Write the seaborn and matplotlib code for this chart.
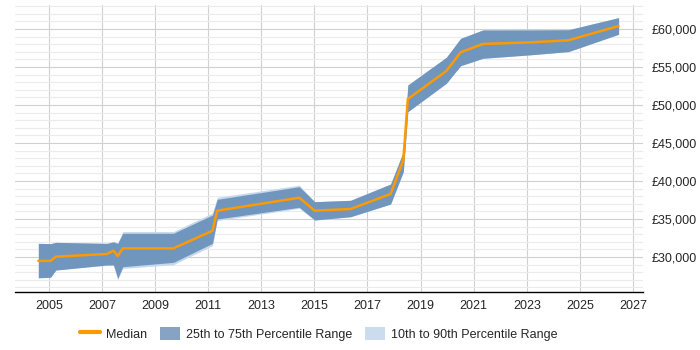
import matplotlib
matplotlib.use("Agg")
import matplotlib.pyplot as plt
import matplotlib.ticker as mticker
from matplotlib.lines import Line2D
from matplotlib.patches import Patch
import seaborn as sns
import pandas as pd

years = [2004.6, 2005.06, 2005.26, 2007.18, 2007.43, 2007.59, 2007.78, 2009.69,
         2011.16, 2011.34, 2014.43, 2015.01, 2016.36, 2017.87, 2018.35, 2018.52,
         2019.97, 2020.51, 2021.35, 2023.15, 2024.57, 2026.46]
median = [29500, 29500, 30050, 30400, 30830, 30130, 31140, 31140,
          33460, 36100, 37800, 36100, 36320, 38290, 42760, 50790,
          54470, 56930, 58030, 58240, 58510, 60390]
p25 = [27270, 27340, 28290, 28950, 28950, 27200, 28730, 29300,
       31800, 35000, 36540, 34870, 35300, 36970, 41230, 49120,
       52850, 55170, 56140, 56600, 57020, 59300]
p75 = [31800, 31760, 31930, 31800, 32000, 31800, 33120, 33120,
       35530, 37590, 39250, 37280, 37460, 39600, 43860, 52630,
       56270, 58770, 59870, 59880, 59900, 61490]
p10 = [27270, 27340, 28290, 28950, 28950, 27000, 28500, 29000,
       31500, 34800, 36400, 34870, 35300, 36970, 41230, 49120,
       52850, 55170, 56140, 56600, 57020, 59300]
p90 = [31800, 31760, 31930, 31800, 32000, 31800, 33350, 33350,
       35800, 37850, 39450, 37280, 37460, 39600, 43860, 52630,
       56270, 58770, 59870, 59880, 59900, 61490]

df = pd.DataFrame({"year": years, "median": median, "p10": p10, "p25": p25,
                   "p75": p75, "p90": p90})

sns.set_style("white")
plt.rcParams['font.family'] = ['Liberation Sans', 'DejaVu Sans']

fig = plt.figure(figsize=(7, 3.5), dpi=100)
ax = fig.add_axes([0.0214, 0.1657, 0.8972, 0.82])

light = "#c6d8ec"
dark = "#7096be"
orange = "#ff9900"

ax.fill_between(df["year"], df["p10"], df["p90"], color=light, lw=0, zorder=2)
ax.fill_between(df["year"], df["p25"], df["p75"], color=dark, lw=0, zorder=3)
sns.lineplot(data=df, x="year", y="median", color=orange, lw=1.8, ax=ax,
             zorder=4, legend=False)

ax.set_xlim(2003.72, 2027.38)
ax.set_ylim(25400, 63150)
ax.set_xticks(list(range(2005, 2028, 2)))
ax.yaxis.set_major_locator(mticker.MultipleLocator(5000))
ax.yaxis.set_minor_locator(mticker.MultipleLocator(1000))
ax.yaxis.set_major_formatter(mticker.FuncFormatter(lambda v, p: f"£{int(v):,}"))
ax.yaxis.tick_right()
ax.set_xlabel("")
ax.set_ylabel("")

ax.grid(which="major", axis="both", color="#d0d0d0", lw=0.8, zorder=0)
ax.grid(which="minor", axis="y", color="#ebebeb", lw=0.8, zorder=0)
ax.set_axisbelow(True)

for s in ["top", "right", "left"]:
    ax.spines[s].set_visible(False)
ax.spines["bottom"].set_color("#000000")
ax.spines["bottom"].set_linewidth(1.0)
ax.tick_params(axis="x", length=3, color="#bbbbbb", labelsize=9, pad=3)
ax.tick_params(axis="y", which="both", length=0, labelsize=9, pad=6)

handles = [Line2D([0], [0], color=orange, lw=3),
           Patch(facecolor="#87a3c4", edgecolor="none"),
           Patch(facecolor="#cbdcee", edgecolor="none")]
labels = ["Median", "25th to 75th Percentile Range", "10th to 90th Percentile Range"]
fig.legend(handles, labels, loc="center", bbox_to_anchor=(0.455, 0.047), ncol=3,
           frameon=False, fontsize=9, handlelength=1.6, handleheight=1.3,
           columnspacing=1.0, handletextpad=0.5)

fig.savefig("out.png", dpi=100)
